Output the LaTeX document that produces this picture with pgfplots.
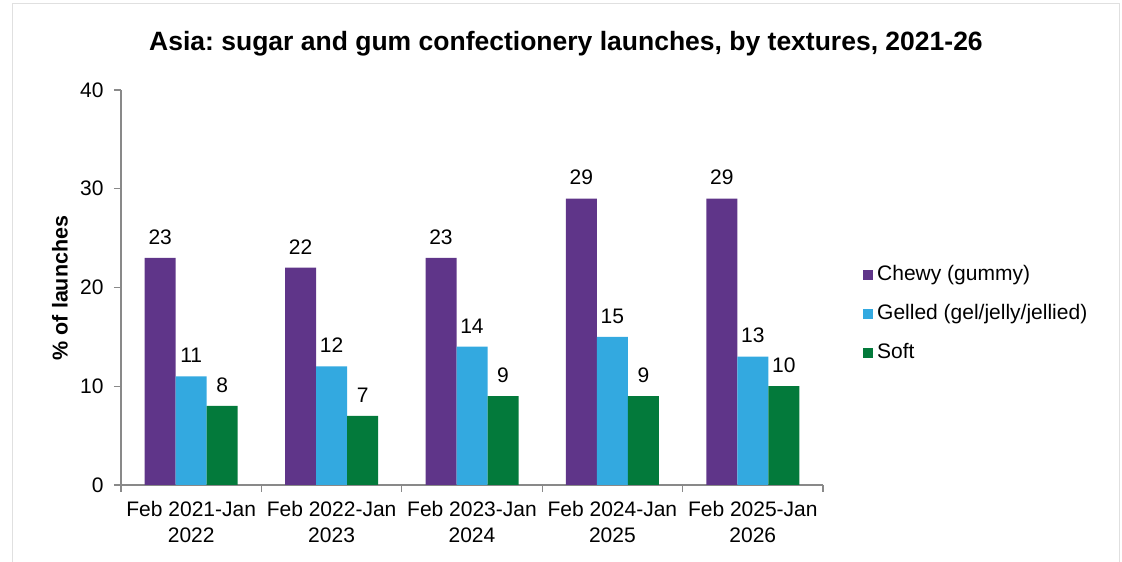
\documentclass[border=0pt]{standalone}
\usepackage{fontspec}
\setmainfont{Liberation Sans}
\usepackage{pgfplots}
\pgfplotsset{compat=1.18}
\definecolor{cpurple}{RGB}{95,53,137}
\definecolor{cblue}{RGB}{51,169,224}
\definecolor{cgreen}{RGB}{3,122,59}
\definecolor{axgray}{RGB}{137,137,137}
\frenchspacing
\begin{document}
\begin{tikzpicture}[x=1pt,y=1pt]
\useasboundingbox (0,0) rectangle (1122,562);
\draw[black!12,line width=1pt] (12,0) -- (12,558) -- (1119,558) -- (1119,0);
\node[anchor=base,font=\fontsize{26.5}{30}\selectfont\bfseries] at (566,511) {Asia: sugar and gum confectionery launches, by textures, 2021-26};
\node[rotate=90,font=\fontsize{21.5}{26}\selectfont\bfseries] at (60,274) {\% of launches};
\begin{axis}[
  at={(121pt,77pt)}, anchor=south west,
  scale only axis, width=702pt, height=395pt,
  ybar=0pt, bar width=31pt,
  xmin=-0.5, xmax=4.5, ymin=0, ymax=40,
  axis x line*=bottom, axis y line*=left,
  axis line style={axgray, line width=1.2pt},
  every tick/.style={axgray, line width=1.2pt},
  tick align=outside,
  xtick={0,1,2,3,4},
  major x tick style={draw=none},
  minor xtick={-0.5,0.5,1.5,2.5,3.5,4.5},
  minor tick length=7pt,
  xticklabels={{Feb 2021-Jan\\2022},{Feb 2022-Jan\\2023},{Feb 2023-Jan\\2024},{Feb 2024-Jan\\2025},{Feb 2025-Jan\\2026}},
  xticklabel style={align=center, font=\fontsize{21}{26}\selectfont, text=black, yshift=-6pt},
  ytick={0,10,20,30,40},
  major tick length=7pt,
  yticklabel style={font=\fontsize{21}{26}\selectfont, text=black, xshift=-7pt},
  /pgf/number format/assume math mode=true,
  nodes near coords,
  every node near coord/.append style={font=\fontsize{21}{26}\selectfont, text=black, yshift=10pt},
  legend style={draw=none, fill=none, at={(1.057,0.432)}, anchor=west, inner sep=0pt,
    font=\fontsize{21}{26}\selectfont, row sep=19pt, column sep=2pt,
    nodes={inner ysep=0pt, text height=15pt, text depth=5pt}},
  legend cell align=left,
  legend image code/.code={\fill[#1,draw=none] (0pt,-5pt) rectangle (10pt,5pt);},
]
\addplot[fill=cpurple, draw=none] coordinates {(0,23) (1,22) (2,23) (3,29) (4,29)};
\addplot[fill=cblue, draw=none] coordinates {(0,11) (1,12) (2,14) (3,15) (4,13)};
\addplot[fill=cgreen, draw=none] coordinates {(0,8) (1,7) (2,9) (3,9) (4,10)};
\legend{Chewy (gummy),Gelled (gel/jelly/jellied),Soft}
\end{axis}
\end{tikzpicture}
\end{document}
